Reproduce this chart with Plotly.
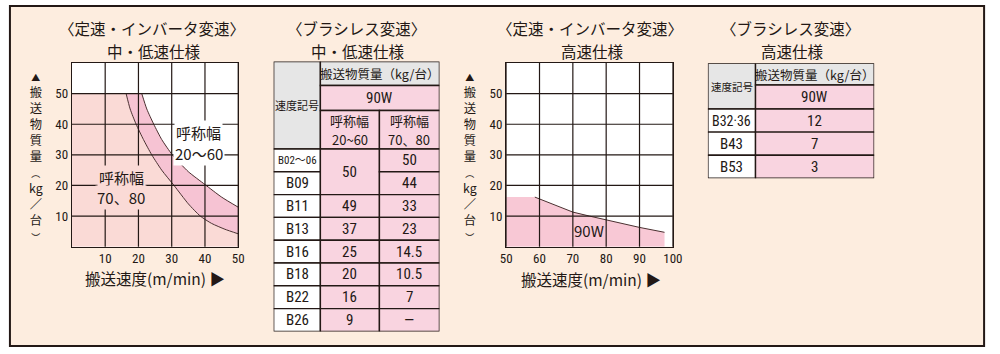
import plotly.graph_objects as go

# ---------------- data ----------------
# 定速・インバータ変速 中・低速仕様 : load limit curves (speed m/min -> kg)
speed_7080 = [16.3, 17.5, 19.3, 21.5, 24.0, 27.0, 30.7, 35.0, 38.6, 42.0, 46.0, 50.0]
load_7080 = [50, 45, 40, 35, 30, 25, 20, 14, 10, 7.6, 5.7, 4.2]
speed_2060 = [21.0, 22.5, 24.6, 27.0, 30.2, 35.0, 40.0, 45.0, 50.0]
load_2060 = [50, 45, 40, 35, 30, 24.5, 20.3, 16.2, 12.9]
max_load = 50
min_speed = 0

# 定速・インバータ変速 高速仕様 : 90W
speed_high = [50, 58.6, 65, 70, 75, 80, 85, 90, 97.5, 97.5]
load_high = [16.2, 16.2, 13.4, 11.3, 10.0, 8.7, 7.5, 6.3, 4.7, 0]

low_x_ticks = [10, 20, 30, 40, 50]
high_x_ticks = [50, 60, 70, 80, 90, 100]
y_ticks = [10, 20, 30, 40, 50]

# ブラシレス変速 中・低速仕様
codes_mid = ["B02〜06", "B09", "B11", "B13", "B16", "B18", "B22", "B26"]
load_mid_2060 = ["50", "50", "49", "37", "25", "20", "16", "9"]
load_mid_7080 = ["50", "44", "33", "23", "14.5", "10.5", "7", "—"]

# ブラシレス変速 高速仕様
codes_high = ["B32·36", "B43", "B53"]
load_high_90w = ["12", "7", "3"]

# ---------------- style ----------------
W, H = 1000, 354
INK = "#231815"
PEACH = "#FDEDDF"
LIGHT_PINK = "#FADAD6"
BAND_PINK = "#F6C3D3"
FILL_PINK = "#F8C8D5"
CELL_PINK = "#F9D4E0"
GRAY = "#E6E6E6"
CURVE = "#4A3030"
JP = "Noto Sans CJK JP"
NUM = "'Liberation Sans Narrow', 'Roboto Condensed', 'Arial Narrow', 'Noto Sans CJK JP'"


def px(x):
    return x / W


def py(y):
    return 1 - y / H


fig = go.Figure()
shapes = []
ann = []

# outer frame
shapes.append(dict(type="rect", xref="paper", yref="paper", x0=px(4), x1=px(994), y0=py(346), y1=py(6),
                   fillcolor=PEACH, line=dict(color=INK, width=2), layer="below"))

# ---------- chart axes ----------
chart_y_dom = [py(246.7), py(63)]
axis_common = dict(showgrid=False, zeroline=False, showline=True, mirror=True, linecolor=INK, linewidth=1.3,
                   ticks="", tickfont=dict(family=NUM, size=13, color=INK), fixedrange=True)

fig.update_layout(
    xaxis=dict(domain=[px(67), px(236)], range=[0, 50], tickvals=low_x_ticks, anchor="y", **axis_common),
    yaxis=dict(domain=chart_y_dom, range=[0, 60], tickvals=y_ticks, anchor="x", **axis_common),
    xaxis2=dict(domain=[px(508.3), px(677.7)], range=[50, 100], tickvals=high_x_ticks, anchor="y2", **axis_common),
    yaxis2=dict(domain=chart_y_dom, range=[0, 60], tickvals=y_ticks, anchor="x2", **axis_common),
)

# white plot backgrounds (drawn over frame)
for xr, yr in (("x", "y"), ("x2", "y2")):
    shapes.append(dict(type="rect", xref=xr + " domain", yref=yr + " domain", x0=0, x1=1, y0=0, y1=1,
                       fillcolor="white", line=dict(width=0), layer="below"))

# ---------- left chart traces ----------
fig.add_trace(go.Scatter(x=[min_speed] + speed_7080, y=[max_load] + load_7080, mode="lines",
                         line=dict(width=0), fill="tozeroy", fillcolor=LIGHT_PINK, hoverinfo="skip",
                         xaxis="x", yaxis="y"))
fig.add_trace(go.Scatter(x=[speed_7080[0]] + speed_2060, y=[max_load] + load_2060, mode="lines",
                         line=dict(width=0), fill="tonexty", fillcolor=BAND_PINK, hoverinfo="skip",
                         xaxis="x", yaxis="y"))
fig.add_trace(go.Scatter(x=speed_7080, y=load_7080, mode="lines", line=dict(color=CURVE, width=1, shape="spline", smoothing=0.6),
                         hoverinfo="skip", xaxis="x", yaxis="y"))
fig.add_trace(go.Scatter(x=speed_2060, y=load_2060, mode="lines", line=dict(color=CURVE, width=1, shape="spline", smoothing=0.6),
                         hoverinfo="skip", xaxis="x", yaxis="y"))

# ---------- right chart traces ----------
fig.add_trace(go.Scatter(x=speed_high, y=load_high, mode="lines", line=dict(width=0), fill="tozeroy",
                         fillcolor=FILL_PINK, hoverinfo="skip", xaxis="x2", yaxis="y2"))
fig.add_trace(go.Scatter(x=speed_high[1:-1], y=load_high[1:-1], mode="lines", line=dict(color=CURVE, width=1),
                         hoverinfo="skip", xaxis="x2", yaxis="y2"))

# grid lines above the fills
for xr, yr, xt in (("x", "y", low_x_ticks), ("x2", "y2", high_x_ticks)):
    for v in xt:
        shapes.append(dict(type="line", xref=xr, yref=yr + " domain", x0=v, x1=v, y0=0, y1=1,
                           line=dict(color=INK, width=1.2), layer="above"))
    for v in y_ticks:
        shapes.append(dict(type="line", xref=xr + " domain", yref=yr, x0=0, x1=1, y0=v, y1=v,
                           line=dict(color=INK, width=1.2), layer="above"))

# labels in the charts
ann += [
    dict(x=38.2, y=37.3, xref="x", yref="y", text="呼称幅", bgcolor="white", borderpad=1),
    dict(x=38.2, y=30.5, xref="x", yref="y", text="20〜60", bgcolor="white", borderpad=1),
    dict(x=14.9, y=22.6, xref="x", yref="y", text="呼称幅", bgcolor=LIGHT_PINK, borderpad=1),
    dict(x=14.9, y=16.1, xref="x", yref="y", text="70、80", bgcolor=LIGHT_PINK, borderpad=1),
    dict(x=74.8, y=5.3, xref="x2", yref="y2", text="90W"),
]
for a in ann:
    a.update(showarrow=False, font=dict(family=JP, size=15, color=INK), xanchor="center", yanchor="middle")


def paper_text(x, y, t, size):
    ann.append(dict(x=px(x), y=py(y), xref="paper", yref="paper", text=t, showarrow=False,
                    xanchor="center", yanchor="middle", font=dict(family=JP, size=size, color=INK)))


# titles (two lines each)
titles = [
    (148, "〈定速・インバータ変速〉", "中・低速仕様"),
    (356, "〈ブラシレス変速〉", "中・低速仕様"),
    (594, "〈定速・インバータ変速〉", "高速仕様"),
    (797, "〈ブラシレス変速〉", "高速仕様"),
]
for x, t1, t2 in titles:
    paper_text(x, 28, t1, 15.5)
    paper_text(x + 2, 50.5, t2, 15.5)

# x axis titles
for x, y in ((151, 277.5), (595, 279)):
    paper_text(x, y, "搬送速度(m/min) ▶", 15.5)

# vertical y axis titles (one stacked text each)
small = "<span style='font-size:9px'>{}</span>"
v_title = "<br>".join([small.format("▲"), "搬", "送", "物", "質", "量", small.format("︵"), "kg", "／", "台",
                       small.format("︶")])
for cx in (30, 472):
    paper_text(cx, 157, v_title, 12.3)


# ---------- tables ----------
def setup_table(idx, left, top, col_w, row_h):
    tw, th = sum(col_w), sum(row_h)
    fig.update_layout(**{
        f"xaxis{idx}": dict(domain=[px(left), px(left + tw)], range=[0, tw], visible=False, fixedrange=True,
                            anchor=f"y{idx}"),
        f"yaxis{idx}": dict(domain=[py(top + th), py(top)], range=[th, 0], visible=False, fixedrange=True,
                            anchor=f"x{idx}"),
    })
    ce = [0]
    for w in col_w:
        ce.append(ce[-1] + w)
    re = [0]
    for h in row_h:
        re.append(re[-1] + h)
    return ce, re


def cell(idx, ce, re, r0, r1, c0, c1, text, fill, size, family, gap=19):
    shapes.append(dict(type="rect", xref=f"x{idx}", yref=f"y{idx}", x0=ce[c0], x1=ce[c1], y0=re[r0], y1=re[r1],
                       fillcolor=fill, line=dict(color=INK, width=1.4), layer="above"))
    lines = text.split("\n")
    cy = (re[r0] + re[r1]) / 2
    n = len(lines)
    for i, t in enumerate(lines):
        ann.append(dict(x=(ce[c0] + ce[c1]) / 2, y=cy + (i - (n - 1) / 2) * gap, xref=f"x{idx}", yref=f"y{idx}",
                        text=t, showarrow=False, xanchor="center", yanchor="middle",
                        font=dict(family=family, size=size, color=INK)))


def merged_column(idx, ce, re, values, col, row0, size):
    i = 0
    while i < len(values):
        j = i
        while j + 1 < len(values) and values[j + 1] == values[i]:
            j += 1
        cell(idx, ce, re, row0 + i, row0 + j + 1, col, col + 1, values[i], CELL_PINK, size, NUM)
        i = j + 1


# table 1
ce, re = setup_table(3, 272, 61.5, [47.5, 60, 61], [24, 25, 38.5] + [22.8] * len(codes_mid))
cell(3, ce, re, 0, 3, 0, 1, "速度記号", GRAY, 11, JP)
cell(3, ce, re, 0, 1, 1, 3, "搬送物質量（kg/台）", GRAY, 12.5, JP)
cell(3, ce, re, 1, 2, 1, 3, "90W", CELL_PINK, 15, NUM)
cell(3, ce, re, 2, 3, 1, 2, "呼称幅\n20~60", CELL_PINK, 13, JP)
cell(3, ce, re, 2, 3, 2, 3, "呼称幅\n70、80", CELL_PINK, 13, JP)
for i, c in enumerate(codes_mid):
    cell(3, ce, re, 3 + i, 4 + i, 0, 1, c, "white", 11 if len(c) > 4 else 15, NUM)
merged_column(3, ce, re, load_mid_2060, 1, 3, 15)
merged_column(3, ce, re, load_mid_7080, 2, 3, 15)

# table 2
ce2, re2 = setup_table(4, 713.3, 63.3, [48.4, 120.6], [21.7, 24] + [23.1] * len(codes_high))
cell(4, ce2, re2, 0, 2, 0, 1, "速度記号", GRAY, 10.5, JP)
cell(4, ce2, re2, 0, 1, 1, 2, "搬送物質量（kg/台）", GRAY, 12.5, JP)
cell(4, ce2, re2, 1, 2, 1, 2, "90W", CELL_PINK, 15, NUM)
for i, c in enumerate(codes_high):
    cell(4, ce2, re2, 2 + i, 3 + i, 0, 1, c, "white", 14 if len(c) > 4 else 15, NUM)
merged_column(4, ce2, re2, load_high_90w, 1, 2, 15)

fig.update_layout(
    width=W, height=H, autosize=False, margin=dict(l=0, r=0, t=0, b=0),
    paper_bgcolor="white", plot_bgcolor="rgba(0,0,0,0)", showlegend=False,
    shapes=shapes, annotations=ann,
)

fig.write_html("out.html")
